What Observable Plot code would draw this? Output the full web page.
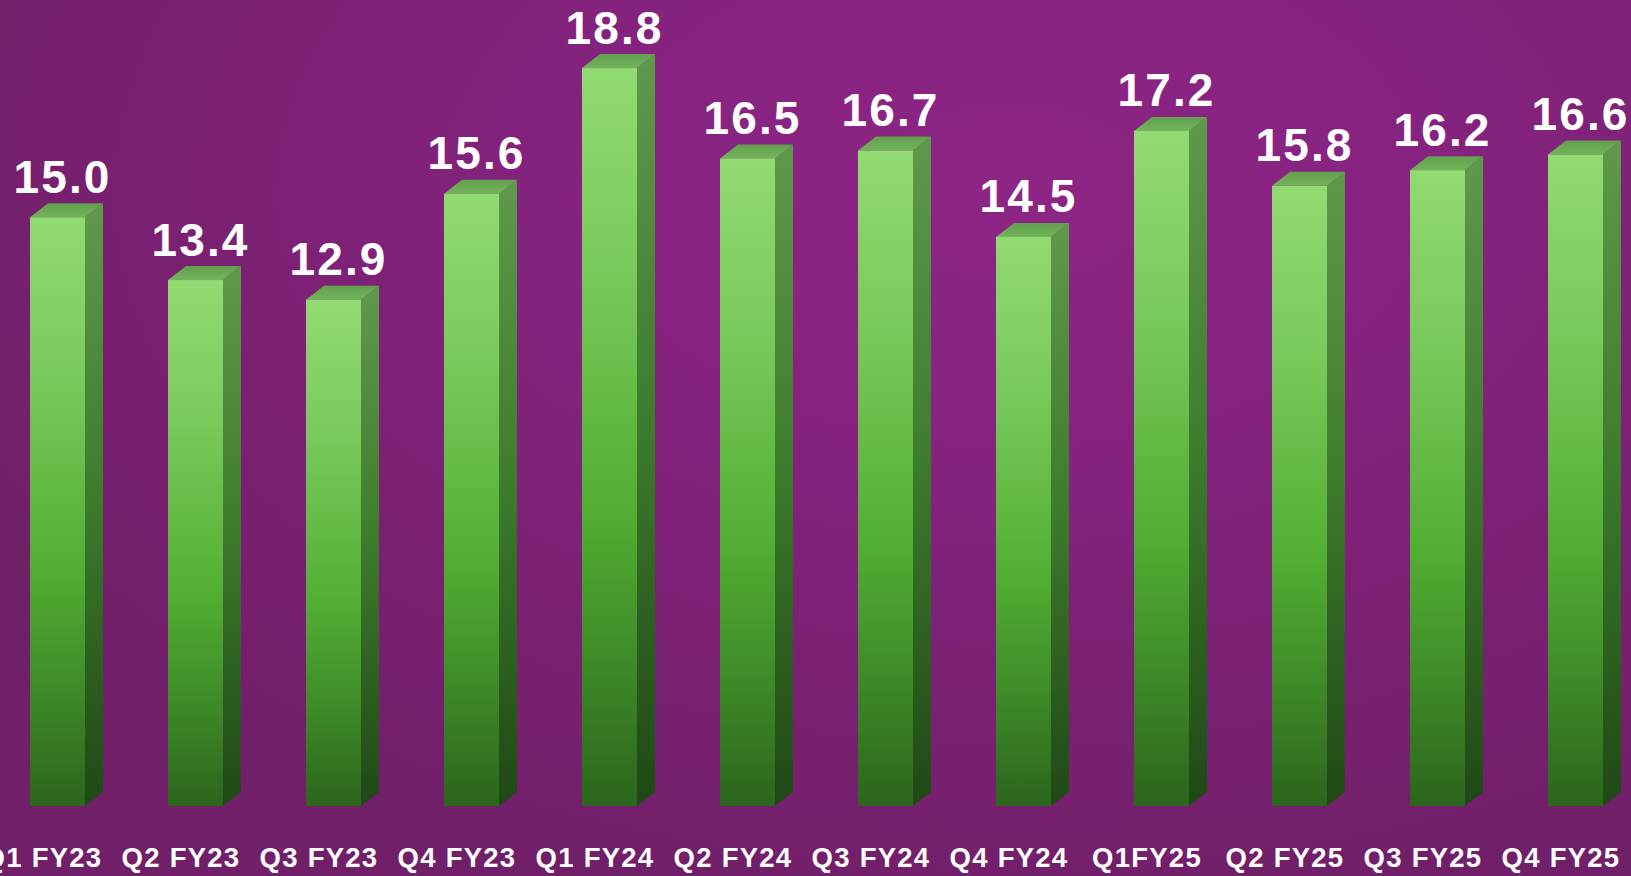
<!DOCTYPE html>
<html><head><meta charset="utf-8">
<script src="https://cdn.jsdelivr.net/npm/d3@7"></script>
<script src="https://cdn.jsdelivr.net/npm/@observablehq/plot@0.6"></script>
<style>
html,body{margin:0;padding:0;overflow:hidden;background:#7a2172;}
#chart svg{display:block;}
</style>
</head><body><div id="chart"></div>
<script>
const quarters = ["Q1 FY23","Q2 FY23","Q3 FY23","Q4 FY23","Q1 FY24","Q2 FY24","Q3 FY24","Q4 FY24","Q1FY25","Q2 FY25","Q3 FY25","Q4 FY25"];
const values = [15.0, 13.4, 12.9, 15.6, 18.8, 16.5, 16.7, 14.5, 17.2, 15.8, 16.2, 16.6];
const data = quarters.map((q, i) => ({quarter: q, value: values[i]}));

function bar3d(index, scales, channels, dimensions, context) {
  const x = scales.x, y = scales.y;
  const w = x.bandwidth();
  const ox = 18, oy = 14;
  const g = d3.create("svg:g");
  const defs = g.append("defs");
  const lg = (id, stops) => {
    const gr = defs.append("linearGradient").attr("id", id).attr("x1", 0).attr("y1", 0).attr("x2", 0).attr("y2", 1);
    stops.forEach(([o, c]) => gr.append("stop").attr("offset", o).attr("stop-color", c));
  };
  lg("frontGrad", [[0, "#92da72"], [0.25, "#7ccb5e"], [0.6, "#52ae33"], [0.8, "#3f8b28"], [1, "#2c651d"]]);
  lg("sideGrad", [[0, "#5f9a4c"], [0.5, "#3c7a2c"], [1, "#1f4815"]]);
  lg("topGrad", [[0, "#629f4f"], [1, "#72b45a"]]);
  for (const i of index) {
    const d = data[i];
    const x0 = x(d.quarter), x1 = x0 + w;
    const yt = y(d.value), yb = y(0);
    g.append("path")
      .attr("d", `M${x1},${yt}L${x1 + ox},${yt - oy}L${x1 + ox},${yb - oy}L${x1},${yb}Z`)
      .attr("fill", "url(#sideGrad)");
    g.append("path")
      .attr("d", `M${x0},${yt}L${x0 + ox},${yt - oy}L${x1 + ox},${yt - oy}L${x1},${yt}Z`)
      .attr("fill", "url(#topGrad)");
    g.append("rect")
      .attr("x", x0).attr("y", yt).attr("width", w).attr("height", yb - yt)
      .attr("fill", "url(#frontGrad)");
  }
  return g.node();
}

// wraps a text mark's render to set letter-spacing on its text elements
const spaced = (ls) => (index, scales, values, dimensions, context, next) => {
  const g = next(index, scales, values, dimensions, context);
  d3.select(g).selectAll("text").attr("letter-spacing", ls).style("letter-spacing", ls + "px");
  return g;
};

const chart = Plot.plot({
  width: 1631,
  height: 876,
  margin: 0,
  style: {
    background: "radial-gradient(ellipse 70% 80% at 62% 22%, #8d2585 0%, #862380 35%, #7a2173 70%, #721f6a 100%)",
    overflow: "visible"
  },
  x: {type: "band", domain: quarters, range: [28, 1604.3], paddingInner: 0.6023, paddingOuter: 0, axis: null},
  y: {domain: [0, 20], range: [806, 21], axis: null},
  marks: [
    Plot.barY(data, {x: "quarter", y: "value", render: bar3d}),
    Plot.text(data, {
      x: "quarter", y: "value", text: d => d.value.toFixed(1),
      dx: 4.5, dy: -25, lineAnchor: "bottom", textAnchor: "middle",
      fill: "white", fontSize: 46, fontWeight: "bold",
      fontFamily: "'Liberation Sans', Arial, sans-serif", render: spaced(2.1)
    }),
    Plot.text(data, {
      x: "quarter", y: () => 0, text: "quarter",
      dx: -15, dy: 60, lineAnchor: "bottom", textAnchor: "middle",
      fill: "white", fontSize: 27.5, fontWeight: "bold",
      fontFamily: "'Liberation Sans', Arial, sans-serif", render: spaced(1.25)
    })
  ]
});
document.getElementById("chart").appendChild(chart);
</script>
</body></html>
